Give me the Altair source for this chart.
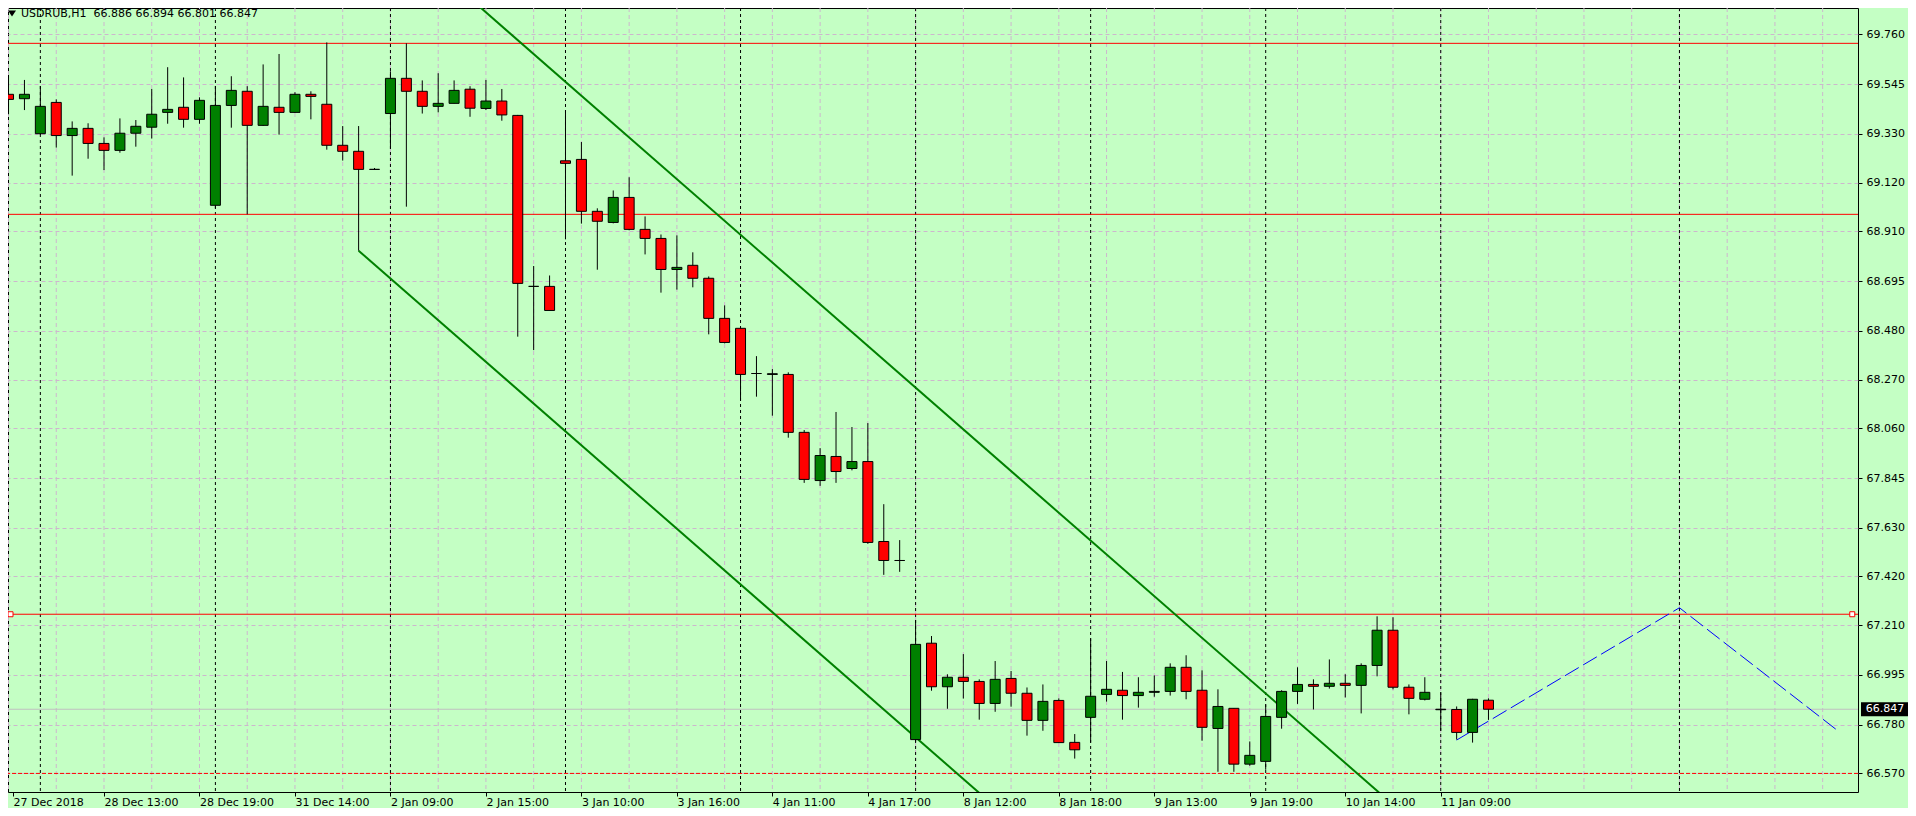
import altair as alt
import pandas as pd

# ---------------- data ----------------
opens = [69.501, 69.482, 69.331, 69.466, 69.323, 69.354, 69.289, 69.259, 69.333, 69.359,
         69.423, 69.445, 69.393, 69.022, 69.453, 69.514, 69.367, 69.445, 69.423, 69.501,
         69.458, 69.281, 69.255, 69.177, 69.418, 69.570, 69.514, 69.449, 69.462, 69.523,
         69.440, 69.472, 69.410, 68.672, 68.672, 69.214, 69.220, 68.996, 68.948, 69.056,
         68.918, 68.879, 68.745, 68.763, 68.707, 68.534, 68.491, 68.296, 68.292, 68.292,
         68.042, 67.834, 67.938, 67.886, 67.916, 67.571, 67.489, 66.716, 67.132, 66.944,
         66.985, 66.967, 66.872, 66.980, 66.916, 66.799, 66.885, 66.704, 66.812, 66.911,
         66.929, 66.906, 66.920, 66.924, 67.028, 66.929, 66.764, 66.851, 66.610, 66.622,
         66.812, 66.924, 66.954, 66.946, 66.959, 66.950, 67.036, 67.188, 66.942, 66.890,
         66.845, 66.846, 66.747, 66.886]
highs = [69.584, 69.563, 69.537, 69.479, 69.384, 69.376, 69.315, 69.397, 69.390, 69.524,
         69.618, 69.574, 69.488, 69.537, 69.579, 69.536, 69.630, 69.675, 69.510, 69.514,
         69.725, 69.364, 69.364, 69.183, 69.600, 69.721, 69.561, 69.592, 69.561, 69.536,
         69.563, 69.524, 69.412, 68.760, 68.719, 69.433, 69.295, 69.009, 69.086, 69.143,
         68.974, 68.896, 68.892, 68.819, 68.715, 68.590, 68.491, 68.371, 68.315, 68.301,
         68.052, 67.974, 68.130, 68.065, 68.082, 67.732, 67.577, 67.232, 67.163, 66.998,
         67.085, 66.976, 67.055, 67.012, 66.941, 66.954, 66.894, 66.740, 67.153, 67.055,
         67.008, 66.985, 66.993, 67.045, 67.080, 67.015, 66.933, 66.851, 66.708, 66.868,
         66.929, 67.028, 66.976, 67.062, 66.998, 67.045, 67.248, 67.244, 66.954, 66.985,
         66.920, 66.859, 66.892, 66.894]
lows = [69.415, 69.433, 69.325, 69.271, 69.150, 69.223, 69.174, 69.249, 69.275, 69.310,
        69.374, 69.357, 69.374, 69.009, 69.357, 68.983, 69.365, 69.327, 69.422, 69.393,
        69.262, 69.215, 68.826, 69.175, 69.266, 69.016, 69.418, 69.423, 69.462, 69.404,
        69.433, 69.387, 68.455, 68.397, 68.567, 68.875, 68.943, 68.744, 68.944, 68.914,
        68.810, 68.645, 68.658, 68.668, 68.465, 68.426, 68.180, 68.196, 68.114, 68.019,
        67.824, 67.811, 67.824, 67.878, 67.561, 67.427, 67.440, 66.707, 66.927, 66.849,
        66.893, 66.802, 66.836, 66.858, 66.733, 66.754, 66.702, 66.634, 66.703, 66.880,
        66.802, 66.854, 66.901, 66.906, 66.890, 66.711, 66.577, 66.577, 66.603, 66.586,
        66.763, 66.870, 66.846, 66.936, 66.898, 66.829, 66.989, 66.933, 66.825, 66.885,
        66.754, 66.716, 66.703, 66.801]
closes = [69.479, 69.501, 69.449, 69.323, 69.354, 69.289, 69.259, 69.333, 69.363, 69.415,
          69.436, 69.393, 69.475, 69.453, 69.518, 69.367, 69.449, 69.423, 69.501, 69.492,
          69.281, 69.255, 69.177, 69.177, 69.570, 69.514, 69.449, 69.462, 69.518, 69.441,
          69.472, 69.412, 68.685, 68.672, 68.568, 69.203, 68.996, 68.953, 69.056, 68.918,
          68.879, 68.745, 68.754, 68.707, 68.534, 68.430, 68.292, 68.296, 68.295, 68.042,
          67.839, 67.942, 67.873, 67.916, 67.567, 67.489, 67.489, 67.127, 66.944, 66.985,
          66.967, 66.872, 66.976, 66.916, 66.799, 66.881, 66.703, 66.672, 66.903, 66.933,
          66.906, 66.920, 66.924, 67.028, 66.924, 66.769, 66.859, 66.610, 66.648, 66.816,
          66.924, 66.954, 66.946, 66.959, 66.950, 67.036, 67.188, 66.942, 66.894, 66.920,
          66.847, 66.747, 66.890, 66.847]

x_labels = ["27 Dec 2018", "28 Dec 13:00", "28 Dec 19:00", "31 Dec 14:00", "2 Jan 09:00",
            "2 Jan 15:00", "3 Jan 10:00", "3 Jan 16:00", "4 Jan 11:00", "4 Jan 17:00",
            "8 Jan 12:00", "8 Jan 18:00", "9 Jan 13:00", "9 Jan 19:00", "10 Jan 14:00",
            "11 Jan 09:00"]
label_step = 6
y_ticks = [69.760, 69.545, 69.330, 69.120, 68.910, 68.695, 68.480, 68.270, 68.060,
           67.845, 67.630, 67.420, 67.210, 66.995, 66.780, 66.570]
separators = [2, 13, 24, 35, 46, 57, 68, 79, 90, 105]
grid_bars = list(range(0, 117, 3))
red_levels = [69.721, 68.983, 67.257]
red_dashed_levels = [66.570]
bid_level = [66.847]
handle_bars = [0.125, 115.86]
handle_level = 67.257
channel_names = ["upper", "upper", "lower", "lower"]
channel_bars = [22, 95, 22, 70]
channel_prices = [70.335, 65.955, 68.826, 65.946]
zigzag_bars = [91, 105, 114.9]
zigzag_prices = [66.714, 67.285, 66.757]
header = "USDRUB,H1\u00a0 66.886 66.894 66.801 66.847"

# ---------------- layout / style ----------------
FONT = "DejaVu Sans"
BG = "#C4FFC4"
GRID = "#CDB6CD"
W, H = 1850, 784
X_MIN = 0.28125
X_MAX = X_MIN + W / 16.0
Y_MAX = 69.8735
Y_MIN = Y_MAX - H / 231.7

candles = pd.DataFrame({"i": list(range(len(opens))), "open": opens, "high": highs,
                        "low": lows, "close": closes})
candles["body_lo"] = candles[["open", "close"]].min(axis=1)
candles["body_hi"] = candles[["open", "close"]].max(axis=1)
candles["dir"] = ["up" if c >= o else "down" for o, c in zip(opens, closes)]

label_pos = [max(k * label_step, X_MIN) for k in range(len(x_labels))]
label_expr = "[" + ",".join("'" + s + "'" for s in x_labels) + "][round(datum.value / %d)]" % label_step

xscale = alt.Scale(domain=[X_MIN, X_MAX], nice=False, zero=False)
yscale = alt.Scale(domain=[Y_MIN, Y_MAX], nice=False, zero=False)
x_axis = alt.Axis(values=label_pos, labelExpr=label_expr, orient="bottom", title=None,
                  domain=False, grid=False, tickSize=4, tickColor="black", labelPadding=0,
                  labelAlign="left", labelBaseline="top", labelFlush=False, labelOverlap=False,
                  labelFont=FONT, labelFontSize=11, labelColor="black")
y_axis = alt.Axis(values=y_ticks, format=".3f", orient="right", title=None, domain=False,
                  grid=True, gridColor=GRID, gridDash=[4, 3], gridWidth=1, tickSize=4,
                  tickColor="black", labelPadding=4, labelFont=FONT, labelFontSize=11,
                  labelColor="black", labelOverlap=False, labelFlush=False)


def X(f):
    return alt.X(f, type="quantitative", scale=xscale, axis=x_axis)


def Y(f):
    return alt.Y(f, type="quantitative", scale=yscale, axis=y_axis)


vgrid = alt.Chart(pd.DataFrame({"i": grid_bars})).mark_rule(
    color=GRID, strokeDash=[4, 3], strokeWidth=1, clip=True).encode(x=X("i"))
seps = alt.Chart(pd.DataFrame({"i": separators})).mark_rule(
    color="black", strokeDash=[3, 3], strokeWidth=1, clip=True).encode(x=X("i"))
bidline = alt.Chart(pd.DataFrame({"p": bid_level})).mark_rule(
    color="#C0C0C0", strokeWidth=1, clip=True).encode(y=Y("p"))
redlines = alt.Chart(pd.DataFrame({"p": red_levels})).mark_rule(
    color="#FF0000", strokeWidth=1, clip=True).encode(y=Y("p"))
reddash = alt.Chart(pd.DataFrame({"p": red_dashed_levels})).mark_rule(
    color="#FF0000", strokeWidth=1, strokeDash=[4, 2], clip=True).encode(y=Y("p"))

channels = alt.Chart(pd.DataFrame({"name": channel_names, "i": channel_bars,
                                   "p": channel_prices})).mark_line(
    color="#008000", strokeWidth=2, clip=True).encode(x=X("i"), y=Y("p"), detail="name:N")
zigzag = alt.Chart(pd.DataFrame({"i": zigzag_bars, "p": zigzag_prices})).mark_line(
    color="#0000FF", strokeWidth=1, strokeDash=[16, 5], clip=True).encode(x=X("i"), y=Y("p"))

wicks = alt.Chart(candles).mark_rule(color="black", strokeWidth=1, clip=True).encode(
    x=X("i"), y=Y("low"), y2="high")
bodies = alt.Chart(candles).mark_bar(size=10, stroke="black", strokeWidth=1, clip=True).encode(
    x=X("i"), y=Y("body_lo"), y2="body_hi",
    color=alt.Color("dir:N", scale=alt.Scale(domain=["up", "down"], range=["#008000", "#FF0000"]),
                    legend=None))

handles = alt.Chart(pd.DataFrame({"i": handle_bars, "p": [handle_level] * len(handle_bars)})).mark_point(
    shape="square", size=25, filled=True, fill="white", stroke="#FF0000", strokeWidth=1,
    opacity=1).encode(x=X("i"), y=Y("p"))

box_df = pd.DataFrame({"p": bid_level, "t": ["%.3f" % v for v in bid_level]})
pricebox = alt.Chart(box_df).mark_point(
    shape="M-1,-0.2979L1,-0.2979L1,0.2979L-1,0.2979Z", size=2209, filled=True,
    color="black", opacity=1).encode(x=alt.value(W + 26.5), y=Y("p"))
pricetext = alt.Chart(box_df).mark_text(
    font=FONT, fontSize=11, color="white", align="center", baseline="middle").encode(
    x=alt.value(W + 27), y=Y("p"), text="t:N")

tri = alt.Chart(pd.DataFrame({"k": [0]})).mark_point(
    shape="M-1,-0.75L1,-0.75L0,0.75Z", size=64, filled=True, color="black", opacity=1).encode(
    x=alt.value(4), y=alt.value(5.5))
title = alt.Chart(pd.DataFrame({"t": [header]})).mark_text(
    font=FONT, fontSize=11, color="black", align="left", baseline="middle").encode(
    x=alt.value(13), y=alt.value(5.5), text="t:N")

chart = alt.layer(vgrid, seps, bidline, redlines, reddash, channels, zigzag, wicks, bodies,
                  handles, pricebox, pricetext, tri, title).properties(
    width=W, height=H,
    padding={"left": 0, "top": 0, "right": 50, "bottom": 16},
    autosize=alt.AutoSizeParams(type="none"),
).configure(background=BG).configure_view(stroke="black", strokeWidth=1)

chart.save("out.html", embed_options={"renderer": "svg", "actions": False})
